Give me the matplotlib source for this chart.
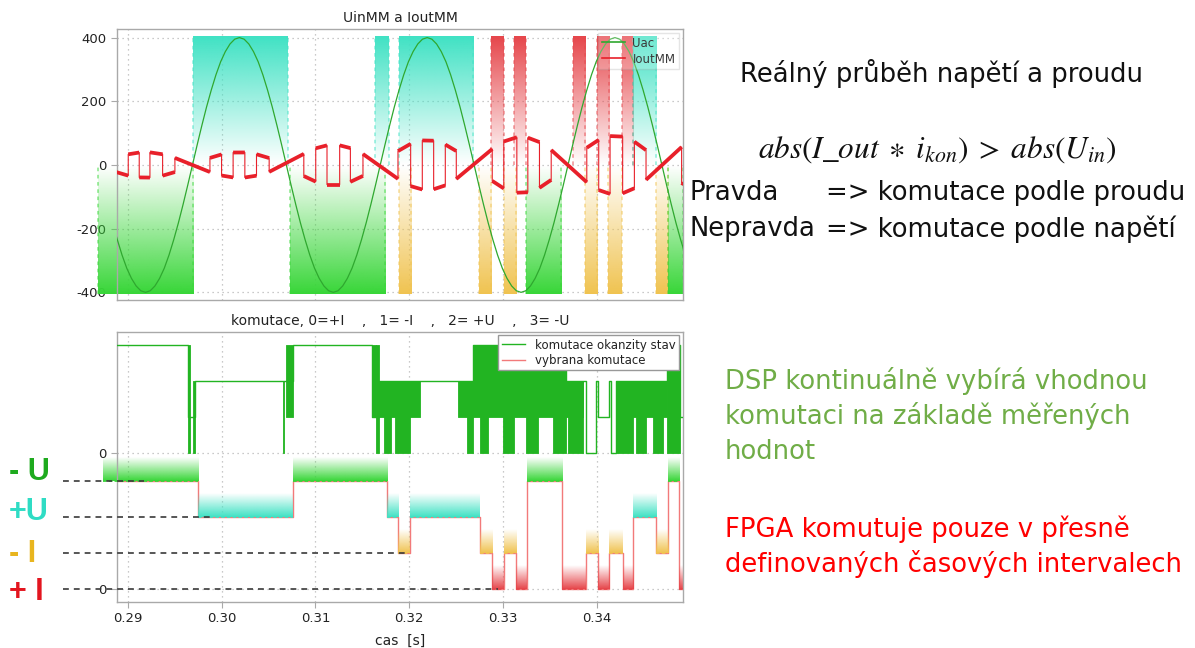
import numpy as np
import matplotlib
matplotlib.use("Agg")
import matplotlib.pyplot as plt
import matplotlib.colors as mcolors
from matplotlib.lines import Line2D

W, H = 1195, 648

# --- measured signals ------------------------------------------------------
# Uac sampled every 0.5 ms starting at uac_t0
uac_t0 = 0.2879
uac_dt = 0.0005
uac_values = [
    -124, -182, -235, -283, -324, -356, -380, -395, -400, -395, -380, -356, -324, -283, -235, -182, -124, -63, 0, 63,
    124, 182, 235, 283, 324, 356, 380, 395, 400, 395, 380, 356, 324, 283, 235, 182, 124, 63, 0, -63,
    -124, -182, -235, -283, -324, -356, -380, -395, -400, -395, -380, -356, -324, -283, -235, -182, -124, -63, 0, 63,
    124, 182, 235, 283, 324, 356, 380, 395, 400, 395, 380, 356, 324, 283, 235, 182, 124, 63, 0, -63,
    -124, -182, -235, -283, -324, -356, -380, -395, -400, -395, -380, -356, -324, -283, -235, -182, -124, -63, 0, 63,
    124, 182, 235, 283, 324, 356, 380, 395, 400, 395, 380, 356, 324, 283, 235, 182, 124, 63, 0, -63,
    -124, -182, -235, -283, -324,
]

# IoutMM vertices (repeated time = switching edge)
iout_t = [
    0.28880, 0.29006, 0.29006, 0.29123, 0.29123, 0.29237, 0.29237, 0.29372, 0.29372, 0.29503, 0.29503,
    0.29876, 0.29876, 0.30000, 0.30000, 0.30123, 0.30123, 0.30248, 0.30248, 0.30372, 0.30372, 0.30507, 0.30507,
    0.30876, 0.30876, 0.31003, 0.31003, 0.31123, 0.31123, 0.31258, 0.31258, 0.31372, 0.31372, 0.31506, 0.31506,
    0.31879, 0.31879, 0.32014, 0.32014, 0.32138, 0.32138, 0.32259, 0.32259, 0.32383, 0.32383, 0.32500, 0.32500,
    0.32883, 0.32883, 0.33006, 0.33006, 0.33145, 0.33145, 0.33262, 0.33262, 0.33386, 0.33386, 0.33511, 0.33511,
    0.33890, 0.33890, 0.34017, 0.34017, 0.34138, 0.34138, 0.34272, 0.34272, 0.34397, 0.34397, 0.34521, 0.34521,
    0.34900, 0.34900, 0.34920,
]
iout_v = [
    -22.5, -33.5, 33.5, 39.1, -39.1, -39.6, 39.6, 33.6, -33.6, -22.2, 22.2,
    -22.1, 22.1, 33.1, -33.1, -39.1, 39.1, 39.3, -39.3, -33.6, 33.6, 21.7, -21.7,
    34.8, -34.8, -52.4, 52.4, 61.6, -61.6, -61.6, 61.6, 53.0, -53.0, -34.4, 34.4,
    -43.6, 43.6, 66.4, -66.4, -77.0, 77.0, 76.2, -76.2, -64.1, 64.1, 43.8, -43.8,
    50.1, -50.1, -73.7, 73.7, 87.1, -87.1, -85.7, 85.7, 71.8, -71.8, -46.9, 46.9,
    -54.1, 54.1, 78.8, -78.8, -90.8, 90.8, 89.0, -89.0, -73.1, 73.1, 46.6, -46.6,
    56.4, -56.4, -60.8,
]

# commutation codes: 0=+I, 1=-I, 2=+U, 3=-U
# background bands in the voltage/current plot
band_start = [0.2868, 0.29700, 0.30725, 0.31636, 0.31888, 0.31888, 0.32742, 0.32871, 0.33004, 0.33117,
              0.33241, 0.33739, 0.33867, 0.34001, 0.34119, 0.34262, 0.34380, 0.34627, 0.34755]
band_end = [0.29700, 0.30711, 0.31741, 0.31779, 0.32016, 0.32681, 0.32871, 0.33004, 0.33141, 0.33241,
            0.33620, 0.33867, 0.34001, 0.34129, 0.34262, 0.34380, 0.34627, 0.34755, 0.34920]
band_state = [3, 2, 3, 2, 1, 2, 1, 0, 1, 0, 3, 0, 1, 0, 1, 0, 2, 1, 3]

# selected commutation (FPGA)
sel_start = [0.2874, 0.29752, 0.30758, 0.31760, 0.31880, 0.32007, 0.32752, 0.32880, 0.33004, 0.33141,
             0.33250, 0.33630, 0.33877, 0.34010, 0.34129, 0.34271, 0.34380, 0.34627, 0.34755, 0.34874]
sel_end = sel_start[1:] + [0.3492]
sel_state = [3, 2, 3, 2, 1, 2, 1, 0, 1, 0, 3, 0, 1, 0, 1, 0, 2, 1, 3, 0]

# instantaneous commutation state (DSP)
okam_t = [0.2888, 0.29643, 0.29714, 0.30649, 0.30758, 0.31598, 0.31680, 0.32110, 0.32517, 0.32677,
          0.33670, 0.33847, 0.33883, 0.33989, 0.34006, 0.34129, 0.34147, 0.34200, 0.34744, 0.34886, 0.3492]
okam_level = [3, 1, 2, 2, 3, 1, 2, 2, 2, 3, 2, 2, 0, 2, 1, 2, 0, 2, 3, 1, 1]
# fast toggling bursts: (start, end, low, high)
okam_burst = [
    (0.29643, 0.29660, 0, 3), (0.29700, 0.29714, 0, 2),
    (0.30649, 0.30665, 0, 2), (0.30687, 0.30758, 1, 3),
    (0.31598, 0.31640, 1, 3), (0.31650, 0.31680, 0, 3),
    (0.31680, 0.32110, 1, 2), (0.31731, 0.31802, 0, 2), (0.31850, 0.32007, 0, 2),
    (0.32517, 0.32677, 1, 2), (0.32617, 0.32677, 0, 2),
    (0.32677, 0.33670, 1, 3), (0.32748, 0.32836, 0, 3), (0.32996, 0.33120, 0, 3),
    (0.33245, 0.33369, 0, 3), (0.33528, 0.33670, 0, 3),
    (0.33670, 0.33847, 1, 2), (0.33688, 0.33847, 0, 2),
    (0.34200, 0.34744, 1, 2), (0.34202, 0.34379, 0, 2), (0.34415, 0.34521, 0, 2),
    (0.34592, 0.34698, 0, 2),
    (0.34744, 0.34886, 0, 3),
]

state_names = ["+ I", "- I", "+U", "- U"]
label_colors = ["#e3151f", "#e8b51f", "#2fdcc4", "#1eaa1e"]
band_colors = ["#e6464b", "#f0c350", "#40e2c4", "#38d638"]
guide_end = [0.3294, 0.3200, 0.2992, 0.2917]

XMIN, XMAX = 0.28883, 0.34918
OFFSET = 3.78          # upper trace baseline in the lower plot
FILL_H = 0.65

plt.rcParams["font.family"] = "DejaVu Sans"
plt.rcParams["mathtext.fontset"] = "stix"
plt.rcParams["axes.unicode_minus"] = False

fig = plt.figure(figsize=(W / 100, H / 100), dpi=100)
fig.patch.set_facecolor("white")


def fx(px):
    return px / W


def fy(py):
    return 1 - py / H


def gradient(ax, t0, t1, y0, y1, color, strong_top, z=1, clip=True):
    rgb = mcolors.to_rgb(color)
    n = 128
    a = np.linspace(0, 1, n)
    if not strong_top:
        a = a[::-1]
    img = np.zeros((n, 1, 4))
    img[:, 0, :3] = rgb
    img[:, 0, 3] = a
    im = ax.imshow(img, extent=(t0, t1, y0, y1), origin="lower", aspect="auto",
                   interpolation="bilinear", zorder=z)
    im.set_clip_on(clip)


def style_axes(ax):
    for s in ax.spines.values():
        s.set_color("#a9a9a9")
        s.set_linewidth(1.0)
    ax.tick_params(colors="#a9a9a9", labelcolor="#222222", labelsize=9.5, length=4, width=0.8)
    ax.grid(True, color="#b8b8b8", linestyle=(0, (1, 3)), linewidth=0.9)
    ax.set_axisbelow(True)


# --- top: voltage and current ------------------------------------------------
ax1 = fig.add_axes([fx(116.7), fy(300), (683.3 - 116.7) / W, (300 - 29.3) / H])
style_axes(ax1)

for t0, t1, st in zip(band_start, band_end, band_state):
    col = band_colors[st]
    if st in (0, 2):
        gradient(ax1, t0, t1, 0, 405, col, True, clip=False)
        ys = (0, 405)
    else:
        gradient(ax1, t0, t1, -405, 0, col, False, clip=False)
        ys = (-405, 0)
    for tt in (t0, t1):
        ax1.plot([tt, tt], ys, color=col, lw=1.3, ls=(0, (2, 2)), alpha=0.5, zorder=1, clip_on=False)

uac_t = uac_t0 + uac_dt * np.arange(len(uac_values))
ax1.plot(uac_t, uac_values, color="#2fa82f", lw=0.9, zorder=3)

# current: thin switching edges, thick flat parts
it = np.array(iout_t)
iv = np.array(iout_v)
ax1.plot(it, iv, color="#e8202a", lw=0.8, zorder=4)
for i in range(len(it) - 1):
    if it[i + 1] > it[i]:
        ax1.plot(it[i:i + 2], iv[i:i + 2], color="#e8202a", lw=2.7,
                 solid_capstyle="butt", zorder=4)

ax1.set_xlim(XMIN, XMAX)
ax1.set_ylim(-424, 426)
ax1.set_yticks([-400, -200, 0, 200, 400])
ax1.set_xticks([0.29, 0.30, 0.31, 0.32, 0.33, 0.34])
ax1.tick_params(axis="x", length=0, labelbottom=False)
ax1.set_title("UinMM a IoutMM", fontsize=10, color="#222222", pad=5)

leg1 = ax1.legend(handles=[Line2D([], [], color="#2fa82f", lw=1.2), Line2D([], [], color="#e8202a", lw=1.2)],
                  labels=["Uac", "IoutMM"], loc="upper right", bbox_to_anchor=(0.9924, 0.9863),
                  borderaxespad=0, fontsize=8.5, frameon=True, fancybox=False, framealpha=0.25,
                  edgecolor="#999999", handlelength=2.0, labelspacing=0.25, borderpad=0.3,
                  handletextpad=0.6)
for txt in leg1.get_texts():
    txt.set_color("#3a3a3a")

# --- bottom: commutation --------------------------------------------------------
ax2 = fig.add_axes([fx(116.7), fy(601.7), (683.3 - 116.7) / W, (601.7 - 331.7) / H])
style_axes(ax2)

# selected commutation
sx = list(sel_start) + [sel_end[-1]]
sy = list(sel_state) + [sel_state[-1]]
ax2.step(sx, sy, where="post", color="#f27a7a", lw=1.0, zorder=2)
for t0, t1, st in zip(sel_start, sel_end, sel_state):
    col = band_colors[st]
    gradient(ax2, t0, t1, st, st + FILL_H, col, False, z=2.5, clip=(t0 > XMIN))
    ax2.plot([t0, t1], [st, st], color=col, lw=1.3, ls=(0, (2, 1.2)), zorder=2.6,
             clip_on=(t0 > XMIN))

# instantaneous commutation
oy = [v + OFFSET for v in okam_level]
ax2.step(okam_t, oy, where="post", color="#22b422", lw=1.0, zorder=3)
for t0, t1, lo, hi in okam_burst:
    ax2.fill_between([t0, t1], lo + OFFSET, hi + OFFSET, color="#22b422", lw=0.6,
                     edgecolor="#22b422", zorder=3)

ax2.set_xlim(XMIN, XMAX)
ax2.set_ylim(-0.344, 7.156)
ax2.set_yticks([0, OFFSET])
ax2.set_yticklabels(["0", "0"])
ax2.set_xticks([0.29, 0.30, 0.31, 0.32, 0.33, 0.34])
ax2.set_xticklabels(["0.29", "0.30", "0.31", "0.32", "0.33", "0.34"])
ax2.set_xlabel("cas  [s]", fontsize=10, color="#222222", labelpad=6)
ax2.set_title("komutace, 0=+I    ,   1= -I    ,   2= +U    ,   3= -U", fontsize=10,
              color="#222222", pad=5)

leg2 = ax2.legend(handles=[Line2D([], [], color="#22b422", lw=1.0), Line2D([], [], color="#f27a7a", lw=1.0)],
                  labels=["komutace okanzity stav", "vybrana komutace"], loc="upper right",
                  bbox_to_anchor=(0.9924, 0.9878), borderaxespad=0, fontsize=8.5, frameon=True,
                  fancybox=False, framealpha=1.0, edgecolor="#999999", handlelength=2.0,
                  labelspacing=0.2, borderpad=0.3, handletextpad=0.8)
leg2.set_zorder(10)
for txt in leg2.get_texts():
    txt.set_color("#222222")

# guide lines from the level labels into the plot
x_left = ax2.transData.inverted().transform(fig.transFigure.transform((fx(63), 0)))[0]
for st, t_end in enumerate(guide_end):
    ax2.plot([x_left, t_end], [st, st], color="#3a3a3a", lw=1.2, ls=(0, (3.5, 3)),
             clip_on=False, zorder=6)

label_y = [592, 554, 512, 472]
for st in range(4):
    fig.text(fx(9), fy(label_y[st]), state_names[st], color=label_colors[st], fontsize=22,
             fontweight="bold", family="Liberation Sans", ha="left", va="center")

# --- explanatory text -----------------------------------------------------------
txt_kw = dict(family="DejaVu Sans", fontsize=18.6, va="center")
fig.text(fx(942), fy(73), "Reálný průběh napětí a proudu", ha="center", color="#111111", **txt_kw)
fig.text(fx(937), fy(150), r"$abs(I\_out\;\ast\;i_{kon})\;>\;abs(U_{in})$", ha="center", va="center",
         fontsize=22.5, color="#111111")
fig.text(fx(690), fy(193), "Pravda", ha="left", color="#111111", **txt_kw)
fig.text(fx(826), fy(193), "=> komutace podle proudu", ha="left", color="#111111", **txt_kw)
fig.text(fx(690), fy(229), "Nepravda", ha="left", color="#111111", **txt_kw)
fig.text(fx(826), fy(229), "=> komutace podle napětí", ha="left", color="#111111", **txt_kw)

green_lines = ["DSP kontinuálně vybírá vhodnou", "komutaci na základě měřených", "hodnot"]
for k, line in enumerate(green_lines):
    fig.text(fx(725), fy(381 + 35.5 * k), line, ha="left", color="#70ad47", **txt_kw)
red_lines = ["FPGA komutuje pouze v přesně", "definovaných časových intervalech"]
for k, line in enumerate(red_lines):
    fig.text(fx(725), fy(529 + 35.5 * k), line, ha="left", color="#ff0000", **txt_kw)

fig.savefig("out.png", dpi=100, facecolor="white")
